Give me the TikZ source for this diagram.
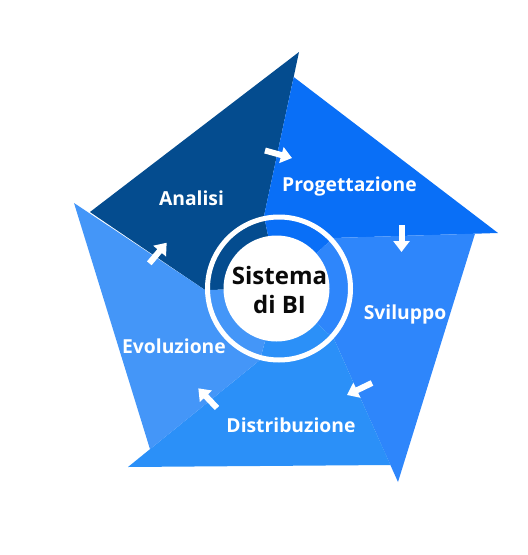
\documentclass[tikz,border=0pt]{standalone}
\usepackage{fontspec}
\setmainfont{Open Sans}
\usetikzlibrary{arrows.meta}
\definecolor{cAna}{HTML}{044C8F}
\definecolor{cPro}{HTML}{096FF7}
\definecolor{cSvi}{HTML}{2E86FB}
\definecolor{cDis}{HTML}{2B90F8}
\definecolor{cEvo}{HTML}{4496F8}
\definecolor{cTxt}{HTML}{0A0A0A}
\tikzset{
  lbl/.style={text=white, font=\bfseries\fontsize{19.3}{22}\selectfont, anchor=base, inner sep=0pt},
  core/.style={text=cTxt, font=\bfseries\fontsize{24}{28}\selectfont, anchor=base, inner sep=0pt},
  flow/.style={white, line width=6pt, -{Triangle[width=16pt,length=11pt]}},
}
\begin{document}
\begin{tikzpicture}[x=1pt,y=-1pt]
\path[use as bounding box] (0,0) rectangle (528,555);
% geometry
\coordinate (O)  at (279,288.5);
\coordinate (SA) at (90,212);    \coordinate (TA) at (299,52);   \coordinate (KA) at (264,216);
\coordinate (SP) at (293.7,77);  \coordinate (TP) at (498,233);  \coordinate (KP) at (333,238);
\coordinate (SS) at (475,233.7); \coordinate (TS) at (398,482);  \coordinate (KS) at (334,339);
\coordinate (SD) at (390.5,465); \coordinate (TD) at (128,467);  \coordinate (KD) at (260,360);
\coordinate (SE) at (150,449.2); \coordinate (TE) at (74,203);   \coordinate (KE) at (205,290);
% pieces
\fill[cAna] (SA) -- (TA) -- (KA) -- (O) -- (KE) -- cycle;
\fill[cPro] (SP) -- (TP) -- (KP) -- (O) -- (KA) -- cycle;
\fill[cSvi] (SS) -- (TS) -- (KS) -- (O) -- (KP) -- cycle;
\fill[cDis] (SD) -- (TD) -- (KD) -- (O) -- (KS) -- cycle;
\fill[cEvo] (SE) -- (TE) -- (KE) -- (O) -- (KD) -- cycle;
% centre
\draw[white, line width=5pt] (O) circle[radius=71.5pt];
\node[circle, fill=white, minimum size=106pt, inner sep=0pt] (disk) at (276.5,288.5) {};
\node[core] (sys1) at (279.5,284) {Sistema};
\node[core] (sys2) at (279.5,313) {di BI};
% labels
\node[lbl] (ana) at (191.5,205) {Analisi};
\node[lbl] (pro) at (349.5,191.7) {Progettazione};
\node[lbl] (svi) at (405,319) {Sviluppo};
\node[lbl] (dis) at (291,432) {Distribuzione};
\node[lbl] (evo) at (174,353) {Evoluzione};
% arrows
\coordinate (a1s) at (265,150.5); \coordinate (a1e) at (292,158);
\coordinate (a2s) at (401.5,225); \coordinate (a2e) at (401.5,252);
\coordinate (a3s) at (372,383);   \coordinate (a3e) at (347,395);
\coordinate (a4s) at (217,408);   \coordinate (a4e) at (198.3,388.3);
\coordinate (a5s) at (149.3,263.3); \coordinate (a5e) at (166.7,242.7);
\draw[flow] (a1s) -- (a1e);
\draw[flow] (a2s) -- (a2e);
\draw[flow] (a3s) -- (a3e);
\draw[flow] (a4s) -- (a4e);
\draw[flow] (a5s) -- (a5e);
\end{tikzpicture}
\end{document}
